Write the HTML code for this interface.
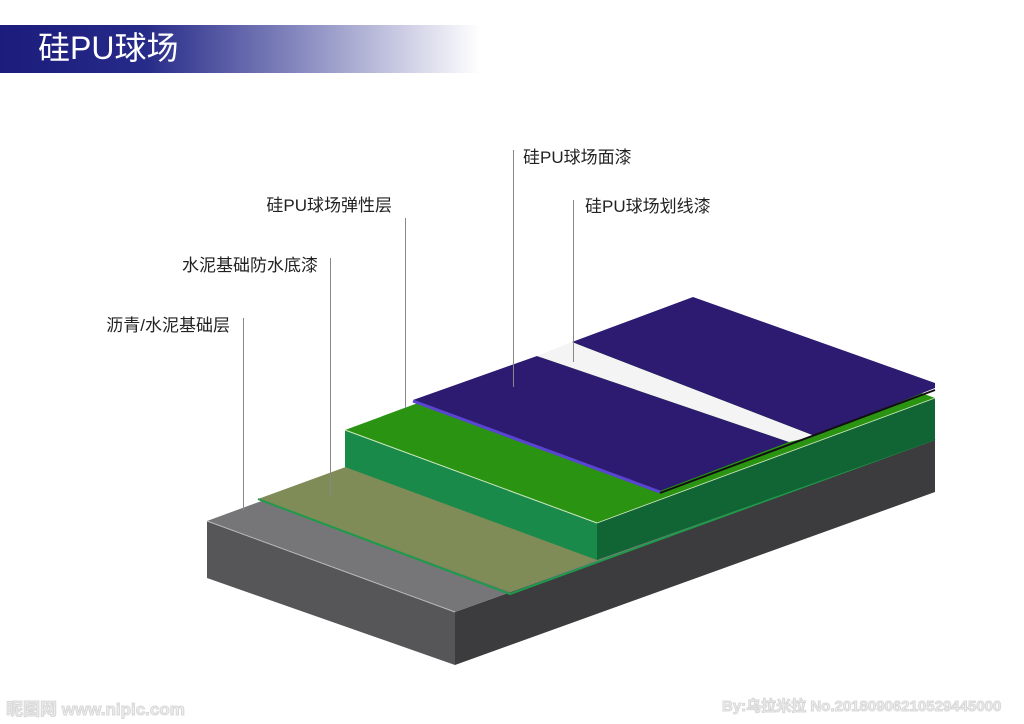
<!DOCTYPE html>
<html><head><meta charset="utf-8"><style>
body{margin:0;width:1024px;height:724px;background:#fff;position:relative;overflow:hidden;font-family:"Liberation Sans","Noto Sans CJK SC",sans-serif}
.hdr{position:absolute;left:0;top:25px;width:480px;height:48px;background:linear-gradient(90deg,#1b1c7c 0%,#262a88 30%,#7f82bb 60%,#ffffff 100%)}
.ttl{position:absolute;left:38px;top:28px;color:#fff;font-size:32px;line-height:40px}
.l{position:absolute;font-size:17px;color:#222;line-height:20px;white-space:nowrap}
.wm{position:absolute;top:695px;font-size:17px;color:#eeeeee;font-weight:bold;-webkit-text-stroke:1px #d8d8d8}
</style></head><body>
<div class="hdr"></div><div class="ttl">硅PU球场</div>
<svg width="1024" height="724" style="position:absolute;left:0;top:0">
<!-- gray slab -->
<polygon points="207,521 455,612 455,665 207,578" fill="#565658"/>
<polygon points="455,612 935,440 935,492 455,665" fill="#3c3c3e"/>
<polygon points="207,521 700,340 935,440 455,612" fill="#767678"/>
<line x1="207" y1="521" x2="455" y2="612" stroke="#bbb" stroke-width="1"/>
<!-- tan layer -->
<polygon points="258,499 510,592 935,437 683,344" fill="#7f8c57"/>
<polyline points="258,499 510,594 935,439" fill="none" stroke="#1f9a4a" stroke-width="2"/>
<!-- green slab -->
<polygon points="345,430 597,523 597,560 345,467" fill="#1a8a4a"/>
<polygon points="597,523 935,398 935,440 597,560" fill="#116434"/>
<polygon points="345,430 683,305 935,398 597,523" fill="#2a9412"/>
<line x1="345" y1="430" x2="597" y2="523" stroke="#cfe9c0" stroke-width="1"/>
<line x1="597" y1="523" x2="935" y2="398" stroke="#cfe9c0" stroke-width="0.8"/>
<!-- blue top -->
<polygon points="413,400 537,356 789,442 660,491" fill="#2c1b70"/>
<polygon points="537,356 572,342 815,436 789,442" fill="#f4f4f4"/>
<polygon points="572,342 693,297 935,383 935,388 815,436" fill="#2c1b70"/>
<line x1="413" y1="401" x2="660" y2="492" stroke="#5a45d2" stroke-width="3"/>
<line x1="660" y1="493" x2="935" y2="390" stroke="#111" stroke-width="2"/>
<!-- leaders -->
<g stroke="#888" stroke-width="1">
<line x1="243.5" y1="318" x2="243.5" y2="510"/>
<line x1="330.5" y1="258" x2="330.5" y2="497"/>
<line x1="405.5" y1="218" x2="405.5" y2="408"/>
<line x1="513.5" y1="150" x2="513.5" y2="387"/>
<line x1="573.5" y1="200" x2="573.5" y2="362"/>
</g>
</svg>
<div class="l" style="left:523px;top:148px">硅PU球场面漆</div>
<div class="l" style="left:585px;top:197px">硅PU球场划线漆</div>
<div class="l" style="right:632px;top:196px">硅PU球场弹性层</div>
<div class="l" style="right:706px;top:256px">水泥基础防水底漆</div>
<div class="l" style="right:794px;top:316px">沥青/水泥基础层</div>
<div class="wm" style="left:6px">昵图网 www.nipic.com</div>
<div class="wm" style="left:722px;font-size:15px">By:乌拉米拉 No.20180906210529445000</div>
</body></html>
